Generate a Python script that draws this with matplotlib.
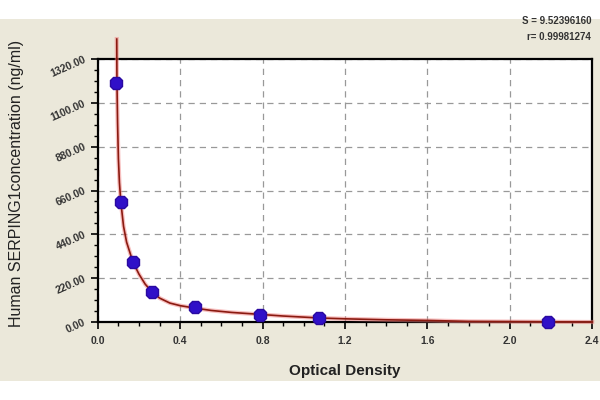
import matplotlib
matplotlib.use("Agg")
import matplotlib.pyplot as plt
from matplotlib.patches import Rectangle
from matplotlib.ticker import MultipleLocator, FixedLocator

# Standard points
od = [0.088, 0.112, 0.171, 0.264, 0.47, 0.788, 1.075, 2.185]
conc = [1200, 600, 300, 150, 75, 37.5, 18.75, 0]

# Fitted curve
curve_x = [0.092, 0.093, 0.096, 0.100, 0.105, 0.112, 0.125, 0.14, 0.171, 0.2, 0.23,
           0.264, 0.3, 0.35, 0.4, 0.47, 0.55, 0.65, 0.79, 0.9, 1.08, 1.2, 1.4, 1.6,
           1.8, 2.0, 2.2, 2.4]
curve_y = [1420, 1200, 1000, 820, 700, 600, 480, 400, 300, 240, 190, 150, 120, 95,
           82, 70, 58, 48, 38, 30, 20, 16, 11, 8, 3, 2, 1, 0]

y_ticks = [0, 220, 440, 660, 880, 1100, 1320]
y_tick_labels = ["0.00", "220.00", "440.00", "660.00", "880.00", "1100.00", "1320.00"]
x_ticks = [0.0, 0.4, 0.8, 1.2, 1.6, 2.0, 2.4]
x_tick_labels = ["0.0", "0.4", "0.8", "1.2", "1.6", "2.0", "2.4"]

plt.rcParams['font.family'] = ['Liberation Sans', 'DejaVu Sans']

fig = plt.figure(figsize=(6, 4), dpi=100)
fig.patch.set_facecolor("white")
bg = Rectangle((0, 19 / 400), 1, (381 - 19) / 400, transform=fig.transFigure,
               facecolor="#ebe8da", edgecolor="none", zorder=-10)
fig.patches.append(bg)

ax = fig.add_axes([0.163, 0.195, 0.824, 0.6575])
ax.set_zorder(5)
ax.set_facecolor("white")

ax.plot(curve_x, curve_y, color="#f08080", lw=3.0, alpha=0.5, clip_on=False, zorder=3)
ax.plot(curve_x, curve_y, color="#8b1a10", lw=1.2, clip_on=False, zorder=4)
ax.plot(od, conc, linestyle="none", marker="8", ms=10, color="#3010c8",
        markeredgecolor="#2a0aa0", clip_on=False, zorder=5)

ax.set_xlim(0, 2.4)
ax.set_ylim(0, 1320)
ax.xaxis.set_major_locator(FixedLocator(x_ticks))
ax.yaxis.set_major_locator(FixedLocator(y_ticks))
ax.xaxis.set_minor_locator(MultipleLocator(0.1))
ax.yaxis.set_minor_locator(MultipleLocator(55))
ax.set_xticklabels(x_tick_labels, fontsize=7.5, fontweight="bold", color="#333333")
ax.set_yticklabels(y_tick_labels, fontsize=7.5, fontweight="bold", rotation=24,
                   color="#333333", rotation_mode="anchor", ha="right", va="center")
ax.tick_params(axis="both", which="major", length=5, width=1.2, direction="out")
ax.tick_params(axis="both", which="minor", length=3, width=1.0, direction="out")
ax.tick_params(axis="y", pad=4)
ax.tick_params(axis="x", pad=5)

ax.grid(True, which="major", color="#999999", linestyle=(0, (5, 4)), lw=0.9)
for s in ax.spines.values():
    s.set_linewidth(1.6)
    s.set_color("black")

ax.set_xlabel("Optical Density", fontsize=11, fontweight="bold", color="#222222",
              labelpad=13)
ax.set_ylabel("Human SERPING1concentration (ng/ml)", fontsize=11.5, color="#222222",
              labelpad=8)
ax.yaxis.set_label_coords(-0.15, 0.525)

fig.text(0.985, 0.948, "S = 9.52396160", ha="right", va="center", fontsize=7,
         fontweight="bold", color="#333333")
fig.text(0.985, 0.908, "r= 0.99981274", ha="right", va="center", fontsize=7,
         fontweight="bold", color="#333333")

fig.savefig("out.png", dpi=100, facecolor=fig.get_facecolor())
